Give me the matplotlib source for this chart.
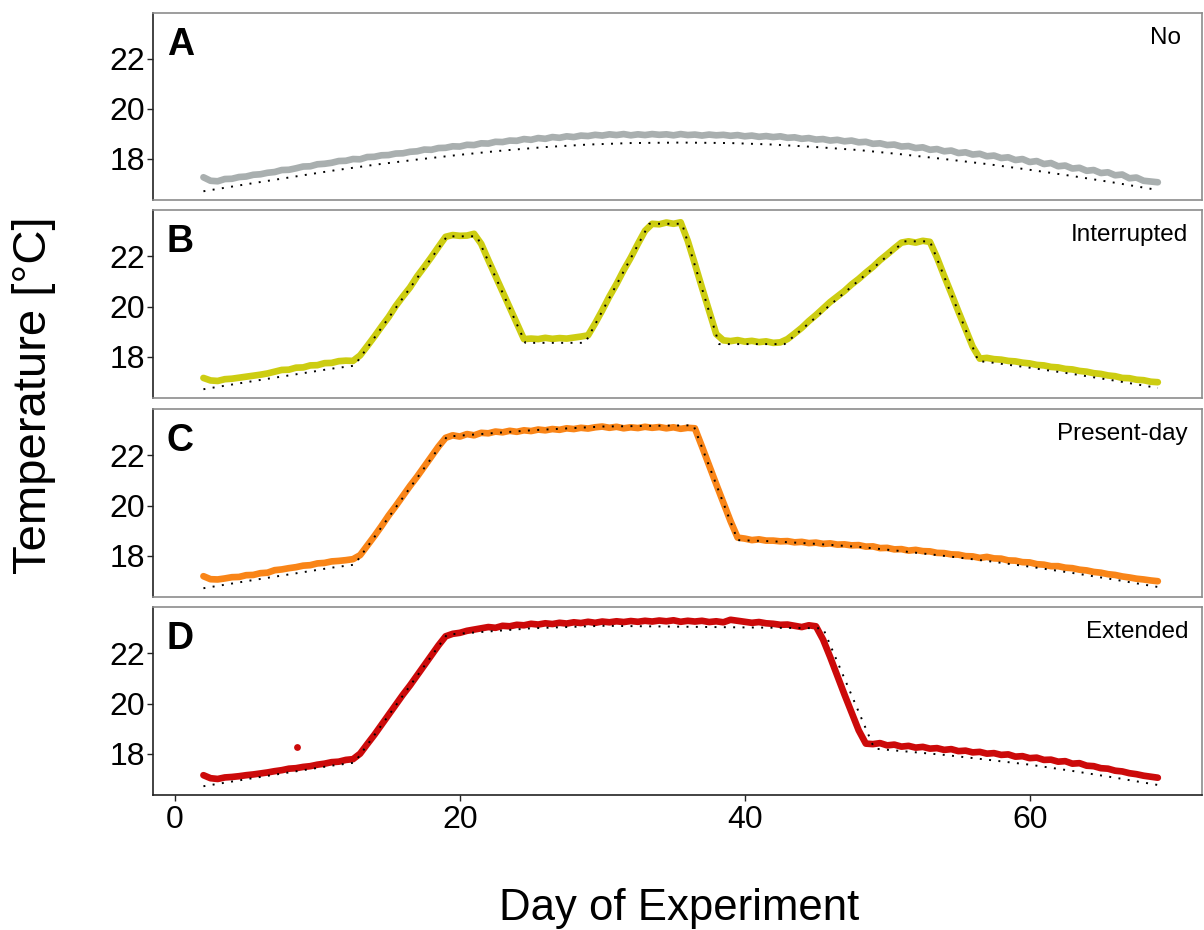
import matplotlib.pyplot as plt
import numpy as np

plt.rcParams['font.family'] = ['Liberation Sans', 'DejaVu Sans']

# observed temperature, one value every half day from day 2 to day 69
days = np.arange(2, 69.01, 0.5)

obs_no = [
    17.26, 17.12, 17.10, 17.19, 17.20, 17.27, 17.29, 17.36, 17.38, 17.44,
    17.47, 17.55, 17.56, 17.62, 17.69, 17.70, 17.78, 17.80, 17.84, 17.91,
    17.92, 17.99, 17.98, 18.07, 18.08, 18.14, 18.15, 18.21, 18.22, 18.28,
    18.30, 18.37, 18.36, 18.43, 18.44, 18.50, 18.49, 18.56, 18.55, 18.62,
    18.61, 18.68, 18.67, 18.73, 18.72, 18.79, 18.76, 18.83, 18.80, 18.87,
    18.84, 18.90, 18.87, 18.93, 18.91, 18.96, 18.93, 18.98, 18.95, 18.99,
    18.94, 18.98, 18.95, 18.99, 18.96, 18.98, 18.94, 18.99, 18.95, 18.97,
    18.93, 18.97, 18.94, 18.96, 18.92, 18.95, 18.90, 18.93, 18.88, 18.91,
    18.87, 18.90, 18.84, 18.86, 18.80, 18.83, 18.77, 18.79, 18.73, 18.76,
    18.70, 18.73, 18.66, 18.68, 18.60, 18.62, 18.55, 18.57, 18.49, 18.51,
    18.43, 18.46, 18.36, 18.39, 18.30, 18.33, 18.23, 18.26, 18.17, 18.20,
    18.10, 18.13, 18.03, 18.06, 17.95, 17.99, 17.87, 17.91, 17.79, 17.83,
    17.70, 17.73, 17.61, 17.64, 17.52, 17.55, 17.43, 17.46, 17.34, 17.37,
    17.22, 17.25, 17.12, 17.09, 17.06,
]

obs_interrupted = [
    17.15, 17.05, 17.03, 17.10, 17.12, 17.16, 17.20, 17.24, 17.28, 17.33,
    17.40, 17.47, 17.48, 17.56, 17.57, 17.65, 17.66, 17.74, 17.75, 17.82,
    17.84, 17.83, 18.05, 18.42, 18.80, 19.20, 19.58, 20.02, 20.40, 20.76,
    21.20, 21.58, 21.97, 22.38, 22.78, 22.85, 22.82, 22.83, 22.90, 22.50,
    21.85, 21.22, 20.58, 19.95, 19.32, 18.70, 18.72, 18.70, 18.75, 18.71,
    18.74, 18.72, 18.76, 18.80, 18.85, 19.33, 19.85, 20.40, 20.90, 21.45,
    21.95, 22.50, 23.02, 23.30, 23.28, 23.35, 23.30, 23.36, 22.62, 21.70,
    20.75, 19.82, 18.90, 18.65, 18.62, 18.66, 18.60, 18.63, 18.58, 18.61,
    18.55, 18.57, 18.70, 18.92, 19.15, 19.42, 19.66, 19.92, 20.18, 20.40,
    20.62, 20.88, 21.10, 21.35, 21.58, 21.85, 22.08, 22.32, 22.55, 22.60,
    22.55, 22.62, 22.58, 21.95, 21.22, 20.52, 19.80, 19.10, 18.40, 17.92,
    17.95, 17.90, 17.88, 17.83, 17.81, 17.76, 17.73, 17.67, 17.65, 17.59,
    17.57, 17.51, 17.49, 17.43, 17.40, 17.34, 17.31, 17.25, 17.22, 17.15,
    17.14, 17.08, 17.06, 17.00, 16.98,
]

obs_present = [
    17.18, 17.06, 17.05, 17.09, 17.14, 17.15, 17.22, 17.23, 17.30, 17.32,
    17.42, 17.45, 17.50, 17.54, 17.60, 17.62, 17.69, 17.71, 17.77, 17.79,
    17.82, 17.86, 18.02, 18.40, 18.78, 19.18, 19.60, 19.98, 20.38, 20.78,
    21.15, 21.55, 21.95, 22.35, 22.70, 22.80, 22.75, 22.85, 22.80, 22.90,
    22.88, 22.95, 22.92, 22.98, 22.94, 23.00, 22.97, 23.03, 23.00, 23.05,
    23.02, 23.08, 23.05, 23.10, 23.07, 23.12, 23.15, 23.10, 23.14, 23.08,
    23.12, 23.09, 23.14, 23.10, 23.13, 23.08, 23.12, 23.06, 23.10, 23.08,
    22.35, 21.60, 20.85, 20.12, 19.38, 18.72, 18.68, 18.62, 18.65, 18.60,
    18.60, 18.57, 18.58, 18.53, 18.55, 18.50, 18.52, 18.47, 18.49, 18.44,
    18.45, 18.41, 18.42, 18.36, 18.37, 18.30, 18.31, 18.25, 18.26, 18.20,
    18.23, 18.18, 18.17, 18.11, 18.10, 18.05, 18.04, 17.98, 17.97, 17.91,
    17.95, 17.89, 17.88, 17.81, 17.80, 17.74, 17.73, 17.66, 17.64, 17.58,
    17.58, 17.52, 17.50, 17.44, 17.41, 17.35, 17.32, 17.26, 17.23, 17.17,
    17.13, 17.08, 17.05, 17.01, 16.98,
]

obs_extended = [
    17.14, 17.02, 16.99, 17.05, 17.07, 17.10, 17.14, 17.17, 17.21, 17.25,
    17.30, 17.34, 17.40, 17.42, 17.47, 17.50, 17.56, 17.60, 17.66, 17.68,
    17.75, 17.78, 18.00, 18.38, 18.75, 19.15, 19.55, 19.95, 20.35, 20.72,
    21.12, 21.52, 21.92, 22.32, 22.68, 22.78, 22.82, 22.90, 22.95, 23.00,
    23.05, 23.02, 23.10, 23.08, 23.14, 23.12, 23.18, 23.15, 23.20, 23.17,
    23.22, 23.19, 23.24, 23.21, 23.26, 23.22, 23.27, 23.24, 23.28, 23.25,
    23.29, 23.26, 23.30, 23.27, 23.31, 23.28, 23.32, 23.26, 23.30, 23.27,
    23.30, 23.25, 23.28, 23.24, 23.34, 23.30, 23.26, 23.22, 23.25, 23.20,
    23.18, 23.14, 23.15, 23.10, 23.05, 23.12, 23.08, 22.55, 21.85, 21.10,
    20.36, 19.64, 18.93, 18.40, 18.38, 18.42, 18.33, 18.36, 18.28, 18.31,
    18.24, 18.27, 18.20, 18.22, 18.15, 18.18, 18.10, 18.12, 18.05, 18.07,
    18.00, 18.02, 17.95, 17.97, 17.88, 17.90, 17.82, 17.84, 17.75, 17.76,
    17.68, 17.70, 17.60, 17.62, 17.52, 17.50, 17.42, 17.40, 17.32, 17.29,
    17.22, 17.18, 17.12, 17.08, 17.04,
]

# lone reading in the extended series
outlier_day = [8.6]
outlier_temp = [18.25]

# target (programmed) temperature, breakpoints
tgt_no_days = [2, 5, 8, 11, 14, 17, 20, 23, 26, 29, 32, 35.5, 39, 42, 45, 48, 51, 54, 57, 60, 63, 66, 69]
tgt_no_temp = [16.70, 16.98, 17.25, 17.52, 17.76, 17.97, 18.16, 18.33, 18.47, 18.57, 18.63, 18.65,
               18.63, 18.57, 18.47, 18.35, 18.18, 17.99, 17.79, 17.56, 17.31, 17.04, 16.75]

tgt_int_days = [2, 5, 8, 11, 12.6, 19.1, 21.2, 24.6, 28.8, 33.3, 35.6, 38.2, 42.8, 51.2, 53, 56.4, 57, 60, 63, 66, 69]
tgt_int_temp = [16.70, 16.98, 17.25, 17.52, 17.64, 22.8, 22.8, 18.55, 18.55, 23.3, 23.3, 18.5, 18.5,
                22.6, 22.6, 17.82, 17.79, 17.56, 17.31, 17.04, 16.75]

tgt_pres_days = [2, 5, 8, 11, 12.6, 19.1, 25, 30, 36.4, 39.5, 42, 45, 48, 51, 54, 57, 60, 63, 66, 69]
tgt_pres_temp = [16.70, 16.98, 17.25, 17.52, 17.64, 22.75, 23.0, 23.15, 23.2, 18.62, 18.57, 18.47,
                 18.35, 18.18, 17.99, 17.79, 17.56, 17.31, 17.04, 16.75]

tgt_ext_days = [2, 5, 8, 11, 12.6, 19.1, 25, 30, 45.5, 49.1, 54, 57, 60, 63, 66, 69]
tgt_ext_temp = [16.70, 16.98, 17.25, 17.52, 17.64, 22.75, 23.0, 23.1, 23.0, 18.2, 17.95, 17.76,
                17.56, 17.31, 17.04, 16.75]

letters = ['A', 'B', 'C', 'D']
names = ['No', 'Interrupted', 'Present-day', 'Extended']
colors = ['#a9afaf', '#cdcd12', '#f98518', '#cc0a0a']
observed = [obs_no, obs_interrupted, obs_present, obs_extended]
targets = [(tgt_no_days, tgt_no_temp), (tgt_int_days, tgt_int_temp),
           (tgt_pres_days, tgt_pres_temp), (tgt_ext_days, tgt_ext_temp)]
name_shift = [-15, -10, -10, -10]

fig = plt.figure(figsize=(12.04, 9.3), dpi=100)

# panel edges in pixels (top, bottom)
edges = [(12.7, 200), (210, 398), (409, 597), (607, 795)]
left, right = 153 / 1204, 1202 / 1204

for i in range(4):
    top_px, bot_px = edges[i]
    ax = fig.add_axes([left, 1 - bot_px / 930, right - left, (bot_px - top_px) / 930])

    ax.plot(days, observed[i], color=colors[i], lw=4.8, solid_capstyle='round',
            solid_joinstyle='round', zorder=2)
    if i == 3:
        ax.scatter(outlier_day, outlier_temp, s=24, color=colors[i], zorder=2, linewidths=0)
    ax.plot(targets[i][0], targets[i][1], color='black', lw=1.4,
            linestyle=(0, (1, 3.8)), zorder=3)

    ax.set_xlim(-1.54, 72.1)
    ax.set_ylim(16.35, 23.85)
    ax.set_yticks([18, 20, 22])
    ax.tick_params(axis='y', labelsize=23, length=4, width=1, pad=2, colors='#222222')
    for lab in ax.get_yticklabels():
        lab.set_color('black')

    for side in ['top', 'right', 'bottom']:
        ax.spines[side].set_color('#8c8c8c')
        ax.spines[side].set_linewidth(1.2)
    ax.spines['left'].set_color('#222222')
    ax.spines['left'].set_linewidth(1.2)

    if i == 3:
        ax.spines['bottom'].set_color('#222222')
        ax.set_xticks([0, 20, 40, 60])
        ax.tick_params(axis='x', labelsize=23, length=4, width=1, pad=3, colors='#222222')
        for lab in ax.get_xticklabels():
            lab.set_color('black')
    else:
        ax.set_xticks([])

    ax.annotate(letters[i], xy=(0, 1), xycoords='axes fraction', xytext=(10, -10),
                textcoords='offset points', ha='left', va='top',
                fontsize=27, fontweight='bold')
    ax.annotate(names[i], xy=(1, 1), xycoords='axes fraction', xytext=(name_shift[i], -10),
                textcoords='offset points', ha='right', va='top', fontsize=17.5)

fig.text(0.028, 0.575, 'Temperature [°C]', rotation=90, ha='center', va='center', fontsize=34)
fig.text(0.564, 0.011, 'Day of Experiment', ha='center', va='baseline', fontsize=31.5)

fig.savefig('out.png', dpi=100)
